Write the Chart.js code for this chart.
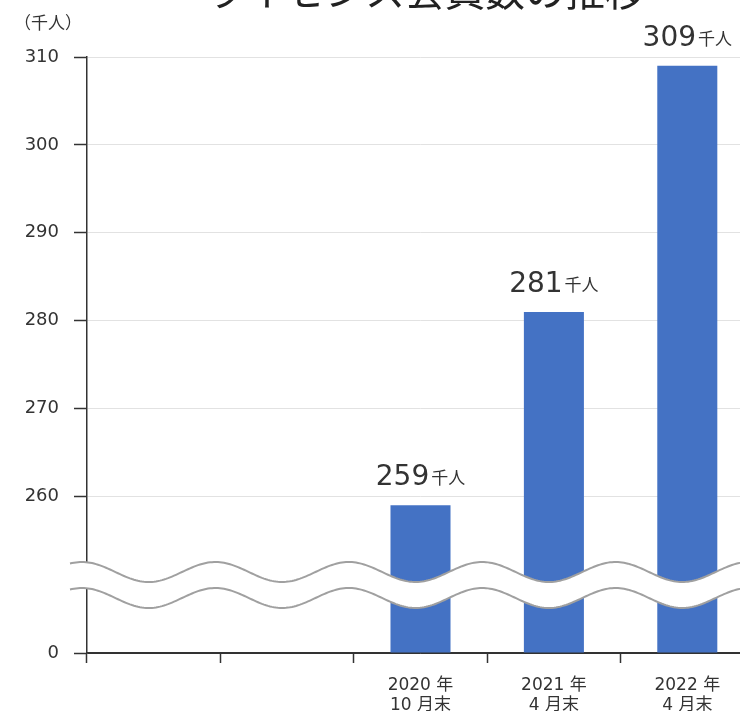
<!DOCTYPE html>
<html lang="ja">
<head>
<meta charset="utf-8">
<script src="https://cdn.jsdelivr.net/npm/chart.js@4.4.1/dist/chart.umd.min.js"></script>
<style>
    html, body { margin: 0; padding: 0; background: #fff; overflow: hidden; }
    #wrap { width: 754px; height: 711px; }
</style>
</head>
<body>
<div id="wrap"><canvas id="memberChart" width="754" height="711"></canvas></div>
<script>
// chart data
const titleText = 'ライセンス会員数の推移';
const unitText = '（千人）';
const categories = [['', ''], ['', ''], ['2020 年', '10 月末'], ['2021 年', '4 月末'], ['2022 年', '4 月末']];
const members = [null, null, 259, 281, 309];
const tickValues = [0, 260, 270, 280, 290, 300, 310];

// broken axis: values above the break are shifted down by this amount
const BREAK_OFFSET = 242.2;
const toAxis = v => (v === null ? null : (v === 0 ? 0 : v - BREAK_OFFSET));
const fromAxis = v => (Math.abs(v) < 0.01 ? 0 : Math.round(v + BREAK_OFFSET));

const FONT = '"DejaVu Sans", "Noto Sans CJK JP", sans-serif';
const JP = '"Noto Sans CJK JP", sans-serif';
const TEXT = '#333';

// draws title, unit label, the wavy break and the value labels
const decorPlugin = {
    id: 'decor',
    afterDatasetsDraw(chart) {
        const ctx = chart.ctx;
        const x = chart.scales.x;
        const y = chart.scales.y;
        const y0 = y.getPixelForValue(0);

        // wavy break
        const period = x.getPixelForValue(1) - x.getPixelForValue(0);
        const trough = x.getPixelForValue(2) - 5;
        const wave = (px, c) => c + 10 * Math.cos(2 * Math.PI * (px - trough) / period);
        const upC = y0 - 81, loC = y0 - 55;
        const xs = 70, xe = chart.width;
        ctx.save();
        ctx.beginPath();
        for (let px = xs; px <= xe; px += 2) ctx.lineTo(px, wave(px, upC));
        for (let px = xe; px >= xs; px -= 2) ctx.lineTo(px, wave(px, loC));
        ctx.closePath();
        ctx.fillStyle = '#fff';
        ctx.fill();
        ctx.strokeStyle = '#a0a0a0';
        ctx.lineWidth = 2;
        [upC, loC].forEach(c => {
            ctx.beginPath();
            for (let px = xs; px <= xe; px += 2) ctx.lineTo(px, wave(px, c));
            ctx.stroke();
        });

        // value labels
        const meta = chart.getDatasetMeta(0);
        ctx.fillStyle = TEXT;
        ctx.textBaseline = 'alphabetic';
        members.forEach((v, i) => {
            if (v === null) return;
            const bar = meta.data[i];
            const num = String(v);
            ctx.font = '28px ' + FONT;
            const w1 = ctx.measureText(num).width;
            ctx.font = '17px ' + JP;
            const w2 = ctx.measureText('千人').width;
            const left = bar.x - (w1 + w2 + 2) / 2;
            const base = bar.y - 20;
            ctx.font = '28px ' + FONT;
            ctx.textAlign = 'left';
            ctx.fillText(num, left, base);
            ctx.font = '17px ' + JP;
            ctx.fillText('千人', left + w1 + 2, base - 1);
        });

        // unit label
        ctx.font = '17px ' + JP;
        ctx.textAlign = 'left';
        ctx.textBaseline = 'middle';
        ctx.fillText(unitText, 14, 23);

        // title, mostly cut off at the top
        ctx.font = '40px ' + JP;
        ctx.textAlign = 'center';
        ctx.textBaseline = 'ideographic';
        ctx.fillStyle = '#222';
        ctx.fillText(titleText, 425, 11);
        ctx.restore();
    }
};

const ctx = document.getElementById('memberChart').getContext('2d');
new Chart(ctx, {
    type: 'bar',
    data: {
        labels: categories,
        datasets: [{
            data: members.map(toAxis),
            backgroundColor: '#4472c4',
            borderWidth: 0,
            barPercentage: 0.45,
            categoryPercentage: 1
        }]
    },
    options: {
        responsive: false,
        animation: false,
        layout: { padding: { top: 57, right: 0, left: 0, bottom: 0 } },
        plugins: {
            legend: { display: false },
            tooltip: { enabled: false }
        },
        scales: {
            x: {
                grid: {
                    offset: true,
                    drawOnChartArea: false,
                    drawTicks: true,
                    tickLength: 10,
                    tickColor: '#333',
                    tickWidth: 1.5
                },
                border: { color: '#333', width: 1.5 },
                ticks: {
                    color: TEXT,
                    font: { family: FONT, size: 17, lineHeight: 1.15 },
                    padding: 13,
                    maxRotation: 0,
                    autoSkip: false
                },
                afterFit: s => { s.height = 58; }
            },
            y: {
                min: 0,
                max: toAxis(310),
                afterBuildTicks: s => { s.ticks = tickValues.map(v => ({ value: toAxis(v) })); },
                grid: {
                    color: c => (c.tick && c.tick.value === 0 ? '#333' : '#e2e2e2'),
                    lineWidth: 1,
                    tickLength: 13,
                    tickColor: '#333',
                    tickWidth: 1.5
                },
                border: { color: '#333', width: 1.5 },
                ticks: {
                    color: TEXT,
                    font: { family: FONT, size: 18 },
                    padding: 15,
                    callback: v => fromAxis(v)
                },
                afterFit: s => { s.width = 87; }
            }
        }
    },
    plugins: [decorPlugin]
});
</script>
</body>
</html>
